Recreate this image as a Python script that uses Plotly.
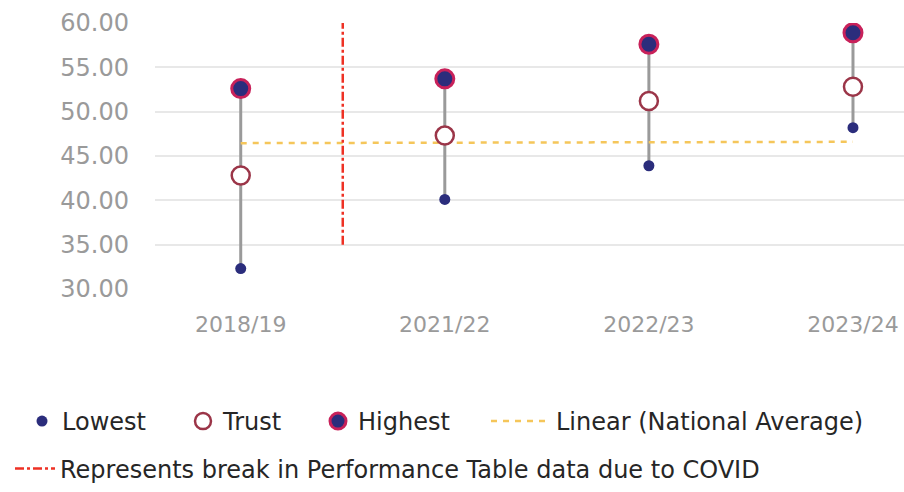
import plotly.graph_objects as go

categories = ["2018/19", "2021/22", "2022/23", "2023/24"]
lowest = [32.3, 40.1, 43.9, 48.2]
trust = [42.8, 47.3, 51.2, 52.8]
highest = [52.6, 53.7, 57.6, 58.9]
national_avg_linear = [46.45, 46.5, 46.55, 46.6]
covid_break_x = 0.5
covid_break_y = [35.0, 60.0]
y_ticks = [30, 35, 40, 45, 50, 55, 60]

xs = list(range(len(categories)))

FONT = "DejaVu Sans"
NAVY = "#2b2d7c"
TXT = "#262626"
LEG_FONT = dict(size=24, color=TXT, family=FONT)

# plot-area geometry in px, used to place the legends in paper coordinates
L, T, W, H = 155, 23, 749, 269


def px_x(p):
    return (p - L) / W


def px_y(p):
    return (T + H - p) / H


fig = go.Figure()

cx, cy = [], []
for i in xs:
    cx += [i, i, None]
    cy += [lowest[i], highest[i], None]
fig.add_trace(go.Scatter(x=cx, y=cy, mode="lines", line=dict(color="#9a9a9a", width=3),
                         showlegend=False, hoverinfo="skip"))
fig.add_trace(go.Scatter(x=xs, y=national_avg_linear, mode="lines", name="Linear (National Average)",
                         line=dict(color="#f5c65a", width=2.5, dash="6px,6px"), legend="legend4"))
fig.add_trace(go.Scatter(x=xs, y=lowest, mode="markers", name="Lowest",
                         marker=dict(color=NAVY, size=11), legend="legend"))
fig.add_trace(go.Scatter(x=xs, y=trust, mode="markers", name="Trust",
                         marker=dict(color="white", size=18, line=dict(color="#9b3548", width=2.5)),
                         legend="legend2"))
fig.add_trace(go.Scatter(x=xs, y=highest, mode="markers", name="Highest",
                         marker=dict(color=NAVY, size=18, line=dict(color="#c8215a", width=3)),
                         legend="legend3"))
fig.add_trace(go.Scatter(x=[covid_break_x, covid_break_x], y=covid_break_y, mode="lines",
                         name="Represents break in Performance Table data due to COVID",
                         line=dict(color="#ee3124", width=2.5, dash="dashdot"), legend="legend5"))

row1 = px_y(426)
row2 = px_y(474)
leg_common = dict(orientation="h", xanchor="left", yanchor="middle", font=LEG_FONT,
                  bgcolor="rgba(0,0,0,0)", itemsizing="trace")

fig.update_layout(
    width=904, height=492, autosize=False,
    margin=dict(l=L, r=904 - L - W, t=T, b=492 - T - H),
    plot_bgcolor="white", paper_bgcolor="white",
    font=dict(family=FONT, color=TXT, size=20),
    xaxis=dict(range=[-0.42, 3.25], tickvals=xs, ticktext=categories, showgrid=False,
               zeroline=False, showline=False, ticks="", ticklabelstandoff=20,
               tickfont=dict(color="#9a9a9a", size=22, family=FONT)),
    yaxis=dict(range=[30, 60], tickvals=y_ticks, tickformat=".2f", showgrid=True,
               gridcolor="#e8e8e8", gridwidth=2, zeroline=False, showline=False, ticks="",
               ticklabelstandoff=25, tickfont=dict(color="#9a9a9a", size=24, family=FONT)),
    legend=dict(x=px_x(42 - 20), y=row1, **leg_common),
    legend2=dict(x=px_x(203 - 20), y=row1, **leg_common),
    legend3=dict(x=px_x(338 - 20), y=row1, **leg_common),
    legend4=dict(x=px_x(556 - 70), y=row1, itemwidth=60, **leg_common),
    legend5=dict(x=px_x(60 - 50), y=row2, itemwidth=40, **leg_common),
)

fig.write_html("out.html", config={"displayModeBar": False},
               post_script="document.body.style.margin='0';document.body.style.overflow='hidden';")
